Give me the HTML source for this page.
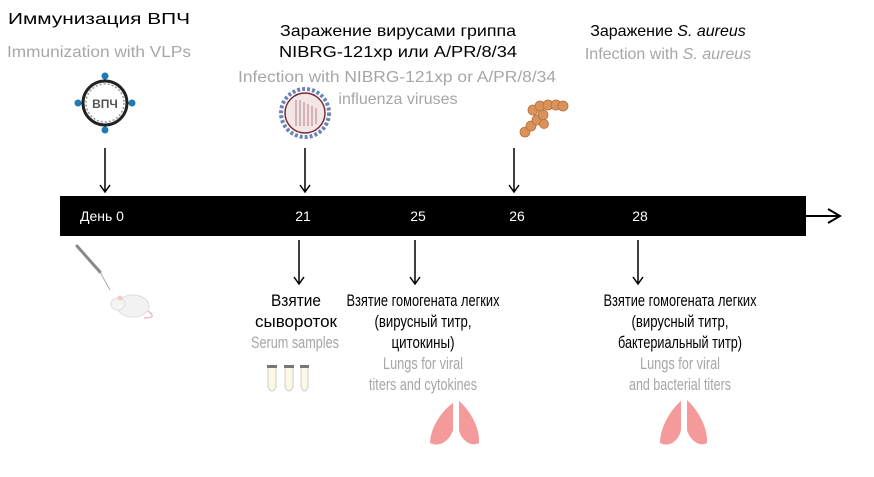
<!DOCTYPE html>
<html><head><meta charset="utf-8"><style>
html,body{margin:0;padding:0;background:#fff}
svg{display:block}
text{font-family:"Liberation Sans",Arial,sans-serif}
</style></head><body>
<svg width="874" height="477" viewBox="0 0 874 477" xmlns="http://www.w3.org/2000/svg">
<!-- top texts -->
<text x="99" y="24" font-size="16" text-anchor="middle" fill="#000" textLength="182" lengthAdjust="spacingAndGlyphs">Иммунизация ВПЧ</text>
<text x="99" y="57" font-size="16" text-anchor="middle" fill="#a6a6a6" textLength="184" lengthAdjust="spacingAndGlyphs">Immunization with VLPs</text>
<text x="398" y="36" font-size="16" text-anchor="middle" textLength="236" lengthAdjust="spacingAndGlyphs">Заражение вирусами гриппа</text>
<text x="398" y="57" font-size="16" text-anchor="middle" textLength="238" lengthAdjust="spacingAndGlyphs">NIBRG-121xp или A/PR/8/34</text>
<text x="397" y="82" font-size="16" text-anchor="middle" fill="#a6a6a6" textLength="318" lengthAdjust="spacingAndGlyphs">Infection with NIBRG-121xp or A/PR/8/34</text>
<text x="398" y="104" font-size="16" text-anchor="middle" fill="#a6a6a6">influenza viruses</text>
<text x="668" y="36" font-size="16" text-anchor="middle">Заражение <tspan font-style="italic">S. aureus</tspan></text>
<text x="668" y="59" font-size="16" text-anchor="middle" fill="#a6a6a6">Infection with <tspan font-style="italic">S. aureus</tspan></text>
<!-- VLP -->
<g stroke="#1f7ab5" stroke-width="2" fill="#1f7ab5">
<line x1="105" y1="76" x2="105" y2="130"/><line x1="78" y1="103" x2="132" y2="103"/>
<circle cx="105" cy="76" r="2.5"/><circle cx="105" cy="130" r="2.5"/><circle cx="78" cy="103" r="2.5"/><circle cx="132" cy="103" r="2.5"/></g>
<circle cx="105" cy="103" r="22" fill="#fff" stroke="#222" stroke-width="3"/>
<circle cx="105" cy="103" r="19" fill="none" stroke="#999" stroke-width="1.5" stroke-dasharray="2 2"/>
<text x="105" y="108" font-size="12" font-weight="bold" text-anchor="middle" fill="#555">ВПЧ</text>
<!-- virus -->
<circle cx="305" cy="113" r="24" fill="none" stroke="#6b84b8" stroke-width="4" stroke-dasharray="3 2"/>
<circle cx="305" cy="113" r="20" fill="#f3e6e6" stroke="#7a2a3a" stroke-width="1.5"/>
<g stroke="#c9a0a8" stroke-width="1.5"><line x1="296" y1="100" x2="296" y2="126"/><line x1="300" y1="100" x2="300" y2="126"/><line x1="304" y1="102" x2="304" y2="126"/><line x1="308" y1="104" x2="308" y2="126"/><line x1="312" y1="106" x2="312" y2="126"/><line x1="316" y1="108" x2="316" y2="124"/></g>
<!-- bacteria -->
<g fill="#d9925a" stroke="#b8703c" stroke-width="0.8">
<circle cx="525" cy="132" r="5"/><circle cx="531" cy="126" r="5"/><circle cx="537" cy="120" r="5"/><circle cx="533" cy="110" r="5"/><circle cx="540" cy="106" r="5"/><circle cx="548" cy="105" r="5"/><circle cx="556" cy="105" r="5"/><circle cx="563" cy="106" r="5"/><circle cx="543" cy="115" r="5"/><circle cx="544" cy="124" r="4.5"/></g>
<!-- arrows -->
<g stroke="#000" stroke-width="1.5" fill="none">
<path d="M105,148 V192 M100,185 L105,192 L110,185"/>
<path d="M305,148 V192 M300,185 L305,192 L310,185"/>
<path d="M514,148 V192 M509,185 L514,192 L519,185"/>
<path d="M299,240 V284 M294,277 L299,284 L304,277"/>
<path d="M415,240 V284 M410,277 L415,284 L420,277"/>
<path d="M638,240 V284 M633,277 L638,284 L643,277"/>
</g>
<!-- bar -->
<rect x="60" y="196" width="746" height="40" fill="#000"/>
<line x1="806" y1="216" x2="838" y2="216" stroke="#000" stroke-width="2"/>
<path d="M828,209 L840,216 L828,223" fill="none" stroke="#000" stroke-width="2"/>
<g fill="#fff" font-size="14">
<text x="80" y="221">День 0</text><text x="303" y="221" text-anchor="middle">21</text><text x="418" y="221" text-anchor="middle">25</text><text x="517" y="221" text-anchor="middle">26</text><text x="640" y="221" text-anchor="middle">28</text></g>
<!-- mouse + syringe -->
<g stroke="#888" stroke-width="3" stroke-linecap="round"><line x1="77" y1="246" x2="100" y2="272"/></g>
<line x1="100" y1="272" x2="110" y2="290" stroke="#aaa" stroke-width="1"/>
<ellipse cx="133" cy="306" rx="16" ry="11" fill="#f2f2f2" stroke="#ddd"/>
<ellipse cx="118" cy="304" rx="7" ry="6" fill="#f4f4f4" stroke="#ddd"/>
<circle cx="120" cy="298" r="2.5" fill="#f5c8cc"/>
<path d="M148,311 Q158,318 144,318" fill="none" stroke="#f0a8b0" stroke-width="1.2"/>
<!-- bottom texts -->
<g font-size="17" text-anchor="middle">
<text x="296" y="306" textLength="50" lengthAdjust="spacingAndGlyphs">Взятие</text>
<text x="296" y="327" textLength="82" lengthAdjust="spacingAndGlyphs">сывороток</text>
<text x="295" y="348" fill="#a6a6a6" textLength="88" lengthAdjust="spacingAndGlyphs">Serum samples</text>
<text x="423" y="306" textLength="153" lengthAdjust="spacingAndGlyphs">Взятие гомогената легких</text>
<text x="423" y="327" textLength="97" lengthAdjust="spacingAndGlyphs">(вирусный титр,</text>
<text x="423" y="348" textLength="63" lengthAdjust="spacingAndGlyphs">цитокины)</text>
<text x="423" y="369" fill="#a6a6a6" textLength="80" lengthAdjust="spacingAndGlyphs">Lungs for viral</text>
<text x="423" y="390" fill="#a6a6a6" textLength="108" lengthAdjust="spacingAndGlyphs">titers and cytokines</text>
<text x="680" y="306" textLength="153" lengthAdjust="spacingAndGlyphs">Взятие гомогената легких</text>
<text x="680" y="327" textLength="97" lengthAdjust="spacingAndGlyphs">(вирусный титр,</text>
<text x="680" y="348" textLength="124" lengthAdjust="spacingAndGlyphs">бактериальный титр)</text>
<text x="680" y="369" fill="#a6a6a6" textLength="80" lengthAdjust="spacingAndGlyphs">Lungs for viral</text>
<text x="680" y="390" fill="#a6a6a6" textLength="102" lengthAdjust="spacingAndGlyphs">and bacterial titers</text>
</g>
<!-- tubes -->
<g fill="#fbf8e4" stroke="#ccc" stroke-width="1">
<path d="M268,367 h8 v20 q-4,8 -8,0 z"/><path d="M285,367 h8 v20 q-4,8 -8,0 z"/><path d="M301,367 h7 v20 q-3.5,8 -7,0 z"/></g>
<g fill="#777"><rect x="267" y="365" width="10" height="3"/><rect x="284" y="365" width="10" height="3"/><rect x="300" y="365" width="9" height="3"/></g>
<!-- lungs -->
<g fill="#f59a9a">
<path d="M453,403 C440,412 430,430 430,443 C440,448 450,440 453,430 Z"/><path d="M459,401 C472,412 480,430 479,443 C470,448 460,438 459,430 Z"/>
<path d="M681,401 C668,412 660,430 660,443 C670,448 679,440 681,430 Z"/><path d="M687,400 C700,412 708,430 707,443 C698,448 689,438 687,430 Z"/>
</g>
</svg>
</body></html>
